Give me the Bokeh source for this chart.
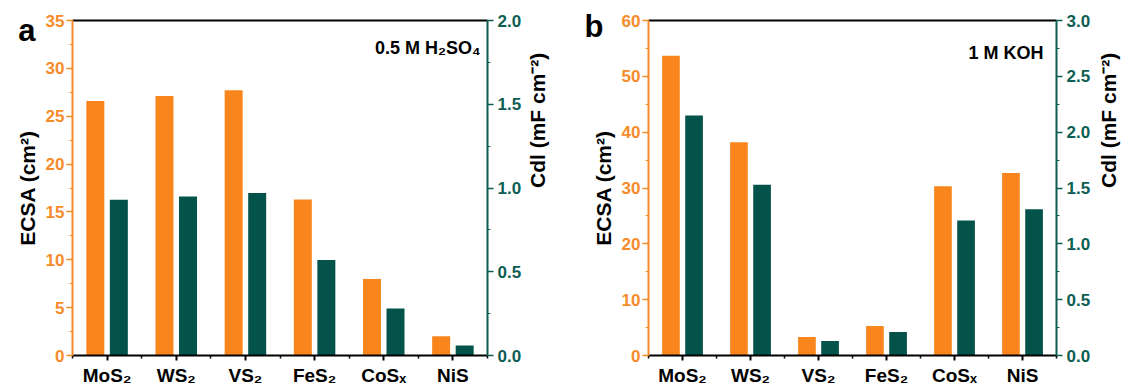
from bokeh.plotting import figure
from bokeh.models import (LinearAxis, Range1d, FixedTicker, NumeralTickFormatter, Label)
from bokeh.layouts import row
from bokeh.embed import file_html
from bokeh.resources import INLINE
import numpy as np

# ---- data ----
categories = ["MoS₂", "WS₂", "VS₂", "FeS₂", "CoSₓ", "NiS"]
ecsa_acid = [26.6, 27.1, 27.7, 16.3, 8.0, 2.0]      # cm^2, 0.5 M H2SO4
cdl_acid = [0.93, 0.95, 0.97, 0.57, 0.28, 0.06]     # mF cm^-2
ecsa_alk = [53.7, 38.2, 3.3, 5.3, 30.3, 32.7]       # cm^2, 1 M KOH
cdl_alk = [2.15, 1.53, 0.13, 0.21, 1.21, 1.31]      # mF cm^-2

left_ticks_a = [0, 5, 10, 15, 20, 25, 30, 35]
left_minor_a = [2.5, 7.5, 12.5, 17.5, 22.5, 27.5, 32.5]
left_ticks_b = [0, 10, 20, 30, 40, 50, 60]
left_minor_b = [5, 15, 25, 35, 45, 55]
right_ticks_a = [0.0, 0.5, 1.0, 1.5, 2.0]
right_minor_a = [0.25, 0.75, 1.25, 1.75]
right_ticks_b = [0.0, 0.5, 1.0, 1.5, 2.0, 2.5, 3.0]
right_minor_b = [0.25, 0.75, 1.25, 1.75, 2.25, 2.75]

ORANGE = "#F8861C"
GREEN = "#03534A"
ORANGE_AX = "#F68B2A"
GREEN_AX = "#0C5D53"
FONT = "Liberation Sans"


def panel(ecsa, cdl, ymax_l, lt, lm, ymax_r, rt, rm, width, bl, br,
          letter, letter_tick, letter_standoff, cond, cond_x, cond_y, r_standoff):
    x = np.arange(1, len(categories) + 1)
    p = figure(width=width, height=392, x_range=Range1d(0.5, 6.5),
               y_range=Range1d(0, ymax_l), output_backend="svg",
               toolbar_location=None, min_border_left=bl, min_border_right=br,
               min_border_top=20, min_border_bottom=37)
    p.extra_y_ranges = {"r": Range1d(0, ymax_r)}
    p.outline_line_color = None
    p.xgrid.visible = False
    p.ygrid.visible = False

    p.vbar(x=x - 0.17, top=ecsa, width=0.26, color=ORANGE, line_color=None)
    p.vbar(x=x + 0.17, top=cdl, width=0.26, color=GREEN, line_color=None,
           y_range_name="r")

    # bottom axis
    xa = p.xaxis[0]
    xa.ticker = FixedTicker(ticks=list(x), minor_ticks=[v + 0.5 for v in range(0, 7)])
    xa.major_label_overrides = {int(i): c for i, c in zip(x, categories)}
    xa.axis_line_width = 2
    xa.axis_line_color = "black"
    xa.major_tick_in = 0
    xa.major_tick_out = 5
    xa.minor_tick_in = 0
    xa.minor_tick_out = 3
    xa.major_tick_line_width = 2
    xa.minor_tick_line_width = 1.5
    xa.major_label_standoff = 4
    xa.major_label_text_font = FONT
    xa.major_label_text_font_style = "bold"
    xa.major_label_text_font_size = "19px"
    xa.major_label_text_color = "black"

    # left axis
    ya = p.yaxis[0]
    ya.ticker = FixedTicker(ticks=lt, minor_ticks=lm)
    ya.axis_line_color = ORANGE_AX
    ya.axis_line_width = 2
    ya.major_tick_line_color = ORANGE_AX
    ya.minor_tick_line_color = ORANGE_AX
    ya.major_tick_line_width = 1.5
    ya.major_tick_in = 0
    ya.major_tick_out = 6
    ya.minor_tick_in = 0
    ya.minor_tick_out = 3
    ya.major_label_text_color = ORANGE_AX
    ya.major_label_text_font = FONT
    ya.major_label_text_font_style = "bold"
    ya.major_label_text_font_size = "17px"
    ya.major_label_standoff = 2
    ya.axis_label = "ECSA (cm²)"
    ya.axis_label_text_font = FONT
    ya.axis_label_text_font_style = "bold"
    ya.axis_label_text_font_size = "21px"
    ya.axis_label_text_color = "black"
    ya.axis_label_standoff = 4

    # outer left axis carrying only the panel letter
    la = LinearAxis(ticker=FixedTicker(ticks=[letter_tick]))
    la.major_label_overrides = {letter_tick: letter}
    la.axis_line_color = None
    la.major_tick_line_color = None
    la.minor_tick_line_color = None
    la.major_tick_out = 0
    la.major_tick_in = 0
    la.major_label_standoff = letter_standoff
    la.major_label_text_font = FONT
    la.major_label_text_font_style = "bold"
    la.major_label_text_font_size = "31px"
    la.major_label_text_color = "black"
    p.add_layout(la, "left")

    # right axis
    ra = LinearAxis(y_range_name="r", ticker=FixedTicker(ticks=rt, minor_ticks=rm),
                    formatter=NumeralTickFormatter(format="0.0"))
    ra.axis_line_color = GREEN_AX
    ra.axis_line_width = 2
    ra.major_tick_line_color = GREEN_AX
    ra.minor_tick_line_color = GREEN_AX
    ra.major_tick_line_width = 1.5
    ra.major_tick_in = 0
    ra.major_tick_out = 6
    ra.minor_tick_in = 0
    ra.minor_tick_out = 3
    ra.major_label_text_color = GREEN_AX
    ra.major_label_text_font = FONT
    ra.major_label_text_font_style = "bold"
    ra.major_label_text_font_size = "17px"
    ra.major_label_standoff = 4
    ra.axis_label = "Cdl (mF cm⁻²)"
    ra.axis_label_text_font = FONT
    ra.axis_label_text_font_style = "bold"
    ra.axis_label_text_font_size = "21px"
    ra.axis_label_text_color = "black"
    ra.axis_label_standoff = r_standoff
    try:
        ra.axis_label_orientation = np.pi / 2
    except Exception:
        pass
    p.add_layout(ra, "right")

    # top frame line
    ta = LinearAxis(ticker=FixedTicker(ticks=[]))
    ta.axis_line_color = "black"
    ta.axis_line_width = 2
    ta.major_tick_line_color = None
    ta.minor_tick_line_color = None
    ta.major_label_text_font_size = "0px"
    p.add_layout(ta, "above")

    # condition
    p.add_layout(Label(x=cond_x, y=cond_y, x_units="screen", y_units="screen",
                       text=cond, text_align="right", text_baseline="alphabetic",
                       text_font=FONT, text_font_style="bold",
                       text_font_size="18px", text_color="black"))
    return p


pa = panel(ecsa_acid, cdl_acid, 35, left_ticks_a, left_minor_a, 2.0,
           right_ticks_a, right_minor_a, 570, 72, 83, "a", 34, -23,
           "0.5 M H₂SO₄", 408, 308, 13)
pb = panel(ecsa_alk, cdl_alk, 60, left_ticks_b, left_minor_b, 3.0,
           right_ticks_b, right_minor_b, 564, 78, 72, "b", 59, -15,
           "1 M KOH", 395, 303, 15)

layout = row(pa, pb)
open("out.html", "w").write(file_html(layout, INLINE))
